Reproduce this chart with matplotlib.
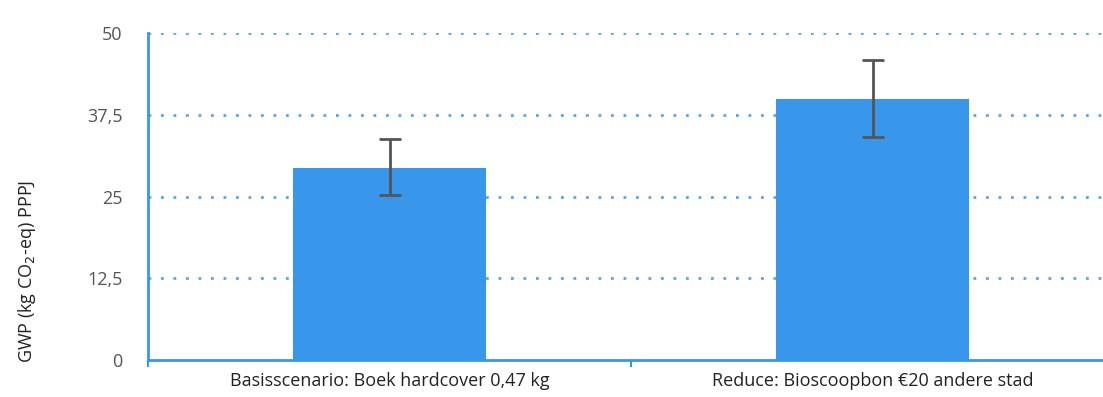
import matplotlib
matplotlib.use("Agg")
import matplotlib.pyplot as plt
import numpy as np

plt.rcParams['font.family'] = ['Open Sans', 'DejaVu Sans']

categories = ["Basisscenario: Boek hardcover 0,47 kg", "Reduce: Bioscoopbon €20 andere stad"]
values = [29.4, 39.9]
err_low = [25.2, 34.1]
err_high = [33.75, 45.8]
yticks = [0, 12.5, 25, 37.5, 50]
ytick_labels = ["0", "12,5", "25", "37,5", "50"]

blue = "#3897ea"
grey = "#555555"

fig = plt.figure(figsize=(11.03, 3.97), dpi=100)
ax = fig.add_axes([148/1103, 37/397, 966/1103, 327/397])

x = np.arange(len(categories))
vals = np.array(values)
yerr = [vals - np.array(err_low), np.array(err_high) - vals]
ax.bar(x, vals, width=0.4, color=blue, zorder=3)
ax.errorbar(x, vals, yerr=yerr, fmt='none', ecolor=grey, elinewidth=2,
            capsize=8, capthick=2, zorder=4)

ax.set_xlim(-0.5, 1.5)
ax.set_ylim(0, 50)
ax.set_yticks(yticks)
ax.set_yticklabels(ytick_labels, color=grey, fontsize=13)
ax.tick_params(axis='y', length=0, pad=18.5)
ax.set_xticks(x)
ax.set_xticklabels(categories, fontsize=13, color="#222222")
ax.tick_params(axis='x', which='major', length=0, pad=9)
ax.set_xticks([-0.5, 0.5, 1.5], minor=True)
ax.tick_params(axis='x', which='minor', length=5, width=1.5, color=blue, direction='out')

for y in yticks[1:]:
    ax.axhline(y, color=blue, linestyle=(0, (1, 3.5)), linewidth=2, alpha=0.85, zorder=1)

for s in ['top', 'right']:
    ax.spines[s].set_visible(False)
for s in ['left', 'bottom']:
    ax.spines[s].set_color(blue)
    ax.spines[s].set_linewidth(2)

ax.set_ylabel("GWP (kg CO$_2$-eq) PPPJ", fontsize=13, color="#222222")
ax.yaxis.set_label_coords((38 - 148) / 966, (360 - 271) / 327)

fig.savefig("out.png", dpi=100)
